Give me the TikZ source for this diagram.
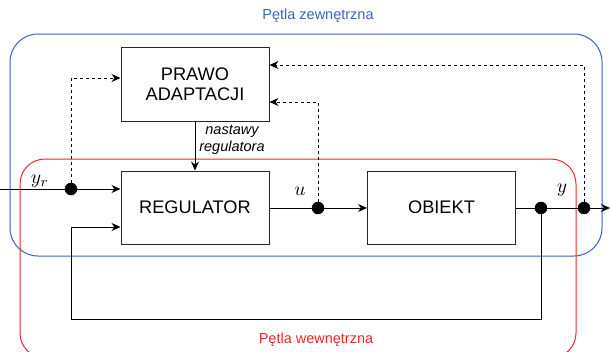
\documentclass[tikz,border=0pt]{standalone}
\usepackage{graphicx}
\usepackage{fontspec}
\setmainfont{Liberation Sans}
\usetikzlibrary{arrows.meta,calc}
\definecolor{loopblue}{RGB}{60,100,185}
\definecolor{loopred}{RGB}{235,40,40}
\definecolor{linegray}{RGB}{40,40,40}
\newcommand{\siglab}[1]{\scalebox{1.95}{$#1$}}
\tikzset{
  blk/.style={draw=linegray,line width=1pt,fill=white,minimum width=148pt,minimum height=73pt,inner sep=0pt,align=center,font=\fontsize{18.2}{20.5}\selectfont},
  conn/.style={draw=black,line width=1pt},
  arr/.style={conn,-{Stealth[length=9pt,width=8pt]}},
  darr/.style={arr,dash pattern=on 3pt off 3pt},
  junc/.style={circle,fill=black,inner sep=0pt,minimum size=12.5pt},
  sig/.style={font=\normalsize,inner sep=0pt},
  captxt/.style={font=\fontsize{14.5}{17}\selectfont},
}
\begin{document}
\begin{tikzpicture}[x=1pt,y=-1pt]
\useasboundingbox (0,0) rectangle (610,351);
\clip (0,0) rectangle (610,351);
% loops
\draw[loopblue,line width=1pt,rounded corners=28pt] (10,34) rectangle (602,256);
\draw[loopred,line width=1pt,rounded corners=25pt] (20,159) rectangle (576,358);
\node[captxt,text=loopblue] (tz) at (318,16) {Pętla zewnętrzna};
\node[captxt,text=loopred] (tw) at (316,340) {Pętla wewnętrzna};
% blocks
\node[blk,minimum height=74pt] (prawo) at (195,84) {PRAWO\\[-1pt]ADAPTACJI};
\node[blk] (reg) at (195,207.5) {REGULATOR};
\node[blk] (obj) at (441.5,207.5) {OBIEKT};
% junctions
\node[junc] (d1) at (71,189) {};
\node[junc] (d2) at (318,208) {};
\node[junc] (d3) at (541,208) {};
\node[junc] (d4) at (584,208) {};
\coordinate (yin) at (0,189);
\coordinate (yout) at (610,208);
\coordinate (fb) at (71,319);
% connectors
\draw[arr] (yin) -- (reg.west |- yin);
\draw[darr] (d1.center) |- ([yshift=6pt]prawo.west);
\draw[darr] (d2.center) |- ([yshift=-18pt]prawo.east);
\draw[darr] (d4.center) |- ([yshift=19pt]prawo.east);
\draw[arr] (prawo.south) -- (reg.north);
\draw[conn] (reg.east |- d2) -- (d2.center);
\draw[arr] (d2.center) -- (obj.west |- d2);
\draw[conn] (obj.east |- d3) -- (d4.center);
\draw[arr] (d4.center) -- (yout);
\draw[arr] (d3.center) |- (fb) |- ([yshift=-19.5pt]reg.west);
% labels
\node[sig] (lyr) at (40,181) {\siglab{y_r}};
\node[sig] (lu) at (300,191) {\siglab{u}};
\node[sig] (ly) at (562,190) {\siglab{y}};
\node[font=\fontsize{14.5}{17}\selectfont\itshape,align=center] (nast) at (232,140) {nastawy\\regulatora};
\end{tikzpicture}
\end{document}
